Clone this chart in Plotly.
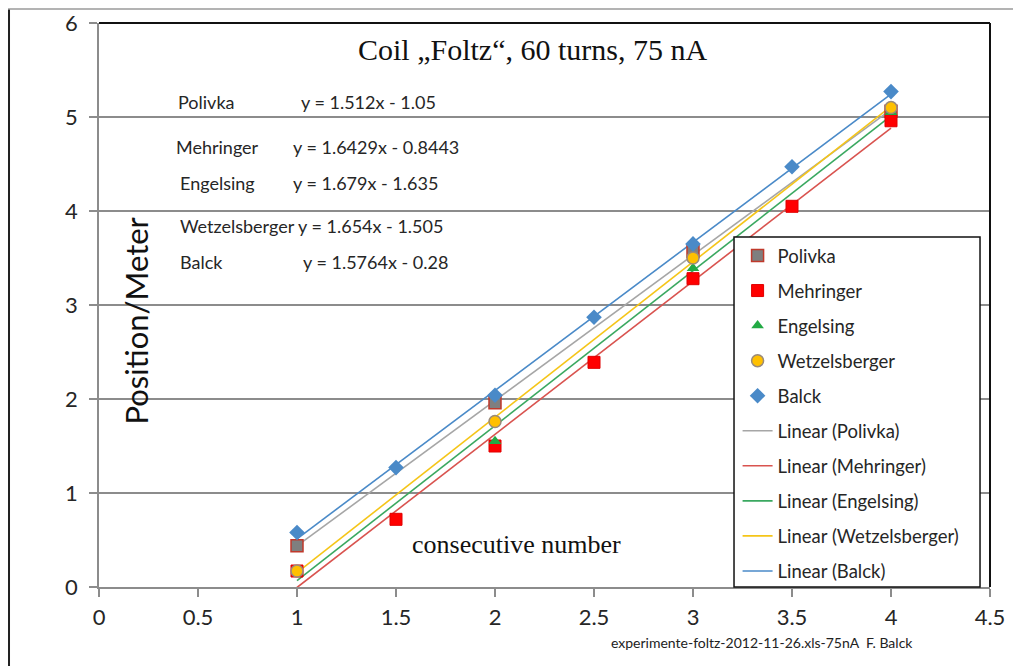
import numpy as np
import plotly.graph_objects as go

# ---------------- data ----------------
names = ["Polivka", "Mehringer", "Engelsing", "Wetzelsberger", "Balck"]

x_polivka = [1, 2, 3, 4]
y_polivka = [0.44, 1.96, 3.57, 5.06]

x_mehringer = [1, 1.5, 2, 2.5, 3, 3.5, 4]
y_mehringer = [0.17, 0.72, 1.50, 2.39, 3.28, 4.05, 4.96]

x_engelsing = [1, 2, 3, 4]
y_engelsing = [0.17, 1.55, 3.39, 5.05]

x_wetzelsberger = [1, 2, 3, 4]
y_wetzelsberger = [0.17, 1.76, 3.50, 5.10]

x_balck = [1, 1.5, 2, 2.5, 3, 3.5, 4]
y_balck = [0.58, 1.27, 2.04, 2.87, 3.65, 4.47, 5.27]

equation_texts = [
    "y = 1.512x - 1.05",
    "y = 1.6429x - 0.8443",
    "y = 1.679x - 1.635",
    "y = 1.654x - 1.505",
    "y = 1.5764x - 0.28",
]

x_ticks = [0, 0.5, 1, 1.5, 2, 2.5, 3, 3.5, 4, 4.5]
y_ticks = [0, 1, 2, 3, 4, 5, 6]

# ---------------- styles ----------------
SANS = "Lato, 'Open Sans', sans-serif"
SERIF = "'Liberation Serif', 'DejaVu Serif', serif"
GRID = "#8c8c8c"
TXT = "#262626"

series = [
    (x_polivka, y_polivka),
    (x_mehringer, y_mehringer),
    (x_engelsing, y_engelsing),
    (x_wetzelsberger, y_wetzelsberger),
    (x_balck, y_balck),
]
marker_styles = [
    dict(symbol="square", size=12, color="#7f7f7f", line=dict(color="#c0392b", width=1.5)),
    dict(symbol="square", size=12, color="#ff0000", line=dict(color="#e00000", width=1)),
    dict(symbol="triangle-up", size=11, color="#22aa44", line=dict(color="#22aa44", width=0)),
    dict(symbol="circle", size=12, color="#ffc000", line=dict(color="#9a8a7a", width=1.5)),
    dict(symbol="diamond", size=12, color="#4a8ac8", line=dict(color="#4a8ac8", width=0)),
]
line_colors = ["#a6a6a6", "#d9534f", "#3aa860", "#f5c518", "#4a8ac8"]

fig = go.Figure()

# linear trend lines (least squares fit of each series), drawn under the markers
for i, (nm, (xs, ys)) in enumerate(zip(names, series)):
    slope, icpt = np.polyfit(xs, ys, 1)
    xl = np.array([min(xs), max(xs)], dtype=float)
    fig.add_trace(go.Scatter(
        x=xl, y=slope * xl + icpt, mode="lines", name=f"Linear ({nm})",
        line=dict(color=line_colors[i], width=1.6), legendgroup=f"l{i}",
        legendrank=10 + i,
    ))

# marker series
for i, (nm, (xs, ys)) in enumerate(zip(names, series)):
    fig.add_trace(go.Scatter(
        x=xs, y=ys, mode="markers", name=nm, marker=marker_styles[i],
        legendgroup=f"m{i}", legendrank=1 + i, cliponaxis=False,
    ))

EQ_FONT = dict(family=SANS, size=18, color=TXT)
annotations = []
label_pos = [  # (name_x, eq_x, y) in data units
    (0.39, 1.01, 5.16),
    (0.38, 0.97, 4.68),
    (0.40, 0.97, 4.30),
    (0.40, None, 3.84),
    (0.40, 1.02, 3.46),
]
for nm, eq, (nx, ex, yy) in zip(names, equation_texts, label_pos):
    if ex is None:
        annotations.append(dict(x=nx, y=yy, text=f"{nm} {eq}", xanchor="left", yanchor="middle",
                                showarrow=False, font=EQ_FONT))
    else:
        annotations.append(dict(x=nx, y=yy, text=nm, xanchor="left", yanchor="middle",
                                showarrow=False, font=EQ_FONT))
        annotations.append(dict(x=ex, y=yy, text=eq, xanchor="left", yanchor="middle",
                                showarrow=False, font=EQ_FONT))

annotations += [
    dict(x=2.187, y=5.72, text="Coil „Foltz“, 60 turns, 75 nA", showarrow=False,
         xanchor="center", yanchor="middle", font=dict(family=SERIF, size=30, color="#111")),
    dict(x=2.11, y=0.45, text="consecutive number", showarrow=False,
         xanchor="center", yanchor="middle", font=dict(family=SERIF, size=26, color="#111")),
    dict(x=0.185, y=2.83, text="Position/Meter", showarrow=False, textangle=-90,
         xanchor="center", yanchor="middle", font=dict(family=SANS, size=31, color="#111")),
    dict(xref="paper", yref="paper", x=0.7436, y=-0.099,
         text="experimente-foltz-2012-11-26.xls-75nA&nbsp;&nbsp;F. Balck",
         showarrow=False, xanchor="center", yanchor="middle",
         font=dict(family=SANS, size=14, color="#222")),
]

LEG_X0, LEG_X1, LEG_Y1 = 0.7127, 0.9888, 0.6206

shapes = [
    # black top & right border of plot area
    dict(type="line", xref="paper", yref="paper", x0=0, x1=1, y0=1, y1=1,
         line=dict(color="#111", width=2)),
    dict(type="line", xref="paper", yref="paper", x0=1, x1=1, y0=0, y1=1,
         line=dict(color="#111", width=2)),
    # legend box (white, framed) under the legend entries
    dict(type="rect", xref="paper", yref="paper", x0=LEG_X0, x1=LEG_X1, y0=0.0, y1=LEG_Y1,
         fillcolor="white", line=dict(color="#111", width=1.5), layer="above"),
    # outer frame pieces
    dict(type="line", xref="paper", yref="paper", x0=-0.1010, x1=-0.1010, y0=1.0248, y1=-0.2,
         line=dict(color="#222", width=2)),
    dict(type="line", xref="paper", yref="paper", x0=-0.1021, x1=1.05, y0=1.0248, y1=1.0248,
         line=dict(color="#9a9a9a", width=1.5)),
]

fig.update_layout(
    width=1013, height=658,
    margin=dict(l=91, r=31, t=15, b=79, autoexpand=False),
    paper_bgcolor="white", plot_bgcolor="white",
    showlegend=True,
    legend=dict(
        x=LEG_X0 + 0.004, y=LEG_Y1, xanchor="left", yanchor="top",
        bgcolor="rgba(0,0,0,0)", borderwidth=0,
        font=dict(family=SANS, size=18.5, color=TXT),
        tracegroupgap=8, traceorder="grouped", itemwidth=30,
    ),
    annotations=annotations,
    shapes=shapes,
)
fig.update_xaxes(
    range=[0, 4.5], tickvals=x_ticks, ticktext=[f"{v:g}" for v in x_ticks],
    showgrid=False, zeroline=False, showline=True, linecolor=GRID, linewidth=1.5,
    ticks="outside", ticklen=8, tickcolor=GRID, tickwidth=1.5, automargin=False,
    tickfont=dict(family=SANS, size=22, color=TXT), ticklabelstandoff=2,
)
fig.update_yaxes(
    range=[0, 6], tickvals=y_ticks, ticktext=[str(v) for v in y_ticks],
    showgrid=True, gridcolor=GRID, gridwidth=1.5, zeroline=False,
    showline=True, linecolor=GRID, linewidth=1.5, automargin=False,
    ticks="outside", ticklen=8, tickcolor=GRID, tickwidth=1.5,
    tickfont=dict(family=SANS, size=22, color=TXT), ticklabelstandoff=7,
)

fig.write_html("out.html")
